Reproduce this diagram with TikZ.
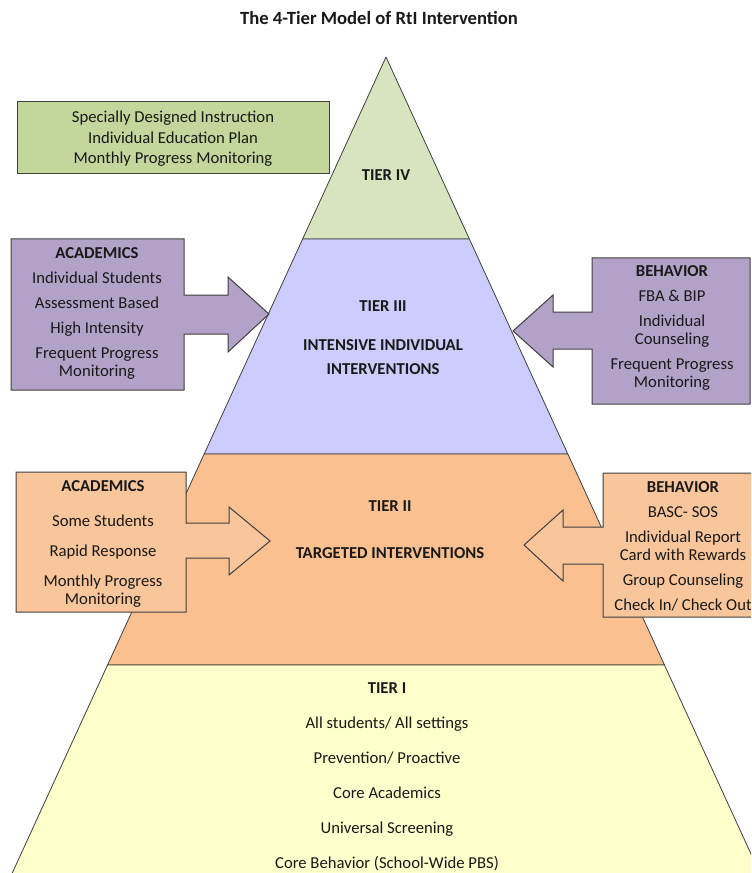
\documentclass[tikz,border=0pt]{standalone}
\usepackage{fontspec}
\setmainfont{Carlito}
\usepackage{tikz}
\usetikzlibrary{calc}
\definecolor{tfour}{HTML}{D7E4BD}
\definecolor{tthree}{HTML}{CCCCFF}
\definecolor{ttwo}{HTML}{FAC090}
\definecolor{tone}{HTML}{FFFFCC}
\definecolor{pgreen}{HTML}{C3D69B}
\definecolor{ppurple}{HTML}{B3A2C7}
\definecolor{porange}{HTML}{F9C59B}
\definecolor{edgec}{HTML}{3F3F3F}
\tikzset{
  % pyramid slices and the boxes that point into them
  tier/.style    = {draw=edgec, line width=0.6pt, line join=round},
  callout/.style = {draw=edgec, line width=0.75pt, line join=miter, fill=#1},
  lbl/.style     = {align=center, inner sep=0pt, text=black!90, yshift=-1.5pt,
                    font=\fontsize{12.5pt}{13.5pt}\selectfont},
  hd/.style      = {lbl, font=\fontsize{12.5pt}{13.5pt}\selectfont\bfseries},
}
\def\pyrx{386}
\def\pyry{57}
\def\pyrs{0.458}

\begin{document}
\begin{tikzpicture}[x=0.75pt,y=-0.75pt]
\useasboundingbox (0,0) rectangle (751,873);
\clip (0,0) rectangle (751,873);
% pyramid, top to bottom
\foreach \yt/\yb/\c in {57/239/tfour,239/454/tthree,454/665/ttwo,665/900/tone}
  \draw[tier, fill=\c] ({\pyrx-\pyrs*(\yt-\pyry)},\yt) -- ({\pyrx+\pyrs*(\yt-\pyry)},\yt)
     -- ({\pyrx+\pyrs*(\yb-\pyry)},\yb) -- ({\pyrx-\pyrs*(\yb-\pyry)},\yb) -- cycle;
% tier IV note
\draw[callout=pgreen] (17,102) rectangle (329,174);
% tier III arrows
\draw[callout=ppurple] (11,239) -- (184,239) -- (184,295) -- (228,295) -- (228,277)
  -- (269,314) -- (228,352) -- (228,334) -- (184,334) -- (184,390) -- (11,390) -- cycle;
\draw[callout=ppurple] (592,258) -- (750,258) -- (750,404) -- (592,404) -- (592,349)
  -- (553,349) -- (553,367) -- (513,331) -- (553,295) -- (553,312) -- (592,312) -- cycle;
% tier II arrows
\draw[callout=porange] (16,472) -- (186,472) -- (186,523) -- (229,523) -- (229,507)
  -- (270,541) -- (229,575) -- (229,558) -- (186,558) -- (186,612) -- (16,612) -- cycle;
\draw[callout=porange] (603,473) -- (765,473) -- (765,617) -- (603,617) -- (603,564)
  -- (563,564) -- (563,581) -- (524,545) -- (563,510) -- (563,527) -- (603,527) -- cycle;

\node[hd, font=\fontsize{14pt}{16pt}\selectfont\bfseries] (title) at (379,16)
  {The 4-Tier Model of RtI Intervention};
\node[lbl] (iep) at (173,137) {Specially Designed Instruction\\[1.9pt]
  Individual Education Plan\\[1.9pt]Monthly Progress Monitoring};
\node[hd] (tierfour) at (386,173) {TIER IV};
\node[hd] (tierthree) at (383,336) {TIER III\\[15.75pt]INTENSIVE INDIVIDUAL\\[4.5pt]INTERVENTIONS};
\node[lbl] (acadthree) at (97,311.5) {\textbf{ACADEMICS}\\[5.25pt]Individual Students\\[5.25pt]
  Assessment Based\\[5.25pt]High Intensity\\[5.25pt]Frequent Progress\\Monitoring};
\node[lbl] (behthree) at (672,326) {\textbf{BEHAVIOR}\\[5.25pt]FBA \& BIP\\[5.25pt]
  Individual\\Counseling\\[5.25pt]Frequent Progress\\Monitoring};
\node[hd] (tiertwo) at (390,527.5) {TIER II\\[21.75pt]TARGETED INTERVENTIONS};
\node[lbl] (acadtwo) at (103,542) {\textbf{ACADEMICS}\\[12.75pt]Some Students\\[9pt]
  Rapid Response\\[9pt]Monthly Progress\\Monitoring};
\node[lbl] (behtwo) at (683,544.5) {\textbf{BEHAVIOR}\\[5.25pt]BASC- SOS\\[5.25pt]
  Individual Report\\Card with Rewards\\[5.25pt]Group Counseling\\[5.25pt]Check In/ Check Out};
\node[lbl] (tierone) at (387,775) {\textbf{TIER I}\\[12.75pt]All students/ All settings\\[12.75pt]
  Prevention/ Proactive\\[12.75pt]Core Academics\\[12.75pt]Universal Screening\\[12.75pt]
  Core Behavior (School-Wide PBS)};
\end{tikzpicture}
\end{document}
